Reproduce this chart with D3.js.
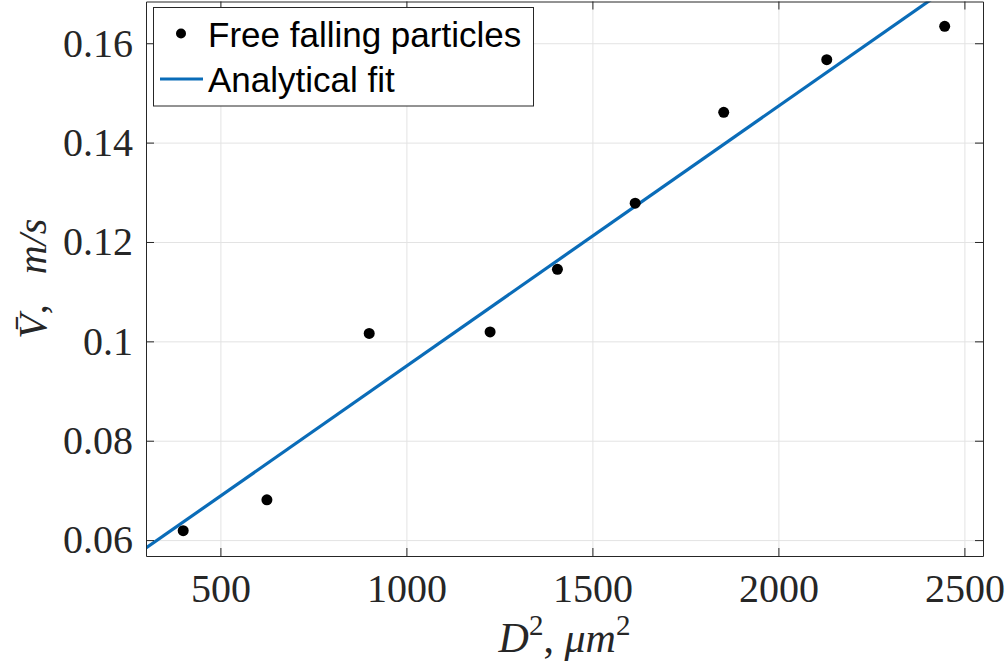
<!DOCTYPE html>
<html>
<meta charset="utf-8">
<style>
body { margin: 0; background: #fff; }
.tick text { font-family: "Liberation Serif", "Times New Roman", serif; font-size: 40px; fill: #262626; }
.axis path, .axis line { stroke: #262626; }
.grid line { stroke: #e3e3e3; }
.grid path { display: none; }
</style>
<body>
<svg id="chart" width="1007" height="668"></svg>
<script src="https://d3js.org/d3.v7.min.js"></script>
<script>

// measured particle data
var d2 = [400, 625, 900, 1225, 1406, 1615, 1853, 2130, 2447];
var vel = [0.0619, 0.0681, 0.1016, 0.1019, 0.1145, 0.1278, 0.1461, 0.1567, 0.1634];

// analytical fit, end points
var fitX = [300, 2550];
var fitY = [0.0584, 0.1761];

var xTicks = [500, 1000, 1500, 2000, 2500];
var yTicks = [0.06, 0.08, 0.1, 0.12, 0.14, 0.16];

var legendLabels = ["Free falling particles", "Analytical fit"];

var svg = d3.select("#chart"),
    margin = {top: 1.5, right: 24, bottom: 112, left: 146},
    width = 983 - margin.left,
    height = 556 - margin.top,
    g = svg.append("g").attr("transform", "translate(" + margin.left + "," + margin.top + ")");

var x = d3.scaleLinear().domain([300, 2550]).range([0, width]);
var y = d3.scaleLinear().domain([0.0568, 0.1684]).range([height, 0]);

var fmtY = function(d) { return String(+d.toFixed(2)); };

// grid
g.append("g").attr("class", "grid")
    .attr("transform", "translate(0," + height + ")")
    .call(d3.axisBottom(x).tickValues(xTicks).tickSize(-height).tickFormat(""));
g.append("g").attr("class", "grid")
    .call(d3.axisLeft(y).tickValues(yTicks).tickSize(-width).tickFormat(""));

g.append("clipPath").attr("id", "clip")
  .append("rect").attr("width", width).attr("height", height);

// fit line
g.append("line")
    .attr("clip-path", "url(#clip)")
    .attr("x1", x(fitX[0])).attr("y1", y(fitY[0]))
    .attr("x2", x(fitX[1])).attr("y2", y(fitY[1]))
    .attr("stroke", "#0a6cb8")
    .attr("stroke-width", 3.2);

// points
g.selectAll(".dot")
    .data(d2)
  .enter().append("circle")
    .attr("class", "dot")
    .attr("cx", function(d) { return x(d); })
    .attr("cy", function(d, i) { return y(vel[i]); })
    .attr("r", 5.5)
    .attr("fill", "#000");

// axes (box, inward ticks)
g.append("g").attr("class", "axis")
    .attr("transform", "translate(0," + height + ")")
    .call(d3.axisBottom(x).tickValues(xTicks).tickSize(-8).tickSizeOuter(0).tickPadding(17.5).tickFormat(d3.format("d")));
g.append("g").attr("class", "axis")
    .call(d3.axisLeft(y).tickValues(yTicks).tickSize(-8).tickSizeOuter(0).tickPadding(13).tickFormat(fmtY));
g.append("g").attr("class", "axis")
    .call(d3.axisTop(x).tickValues(xTicks).tickSize(-8).tickSizeOuter(0).tickFormat(""));
g.append("g").attr("class", "axis")
    .attr("transform", "translate(" + width + ",0)")
    .call(d3.axisRight(y).tickValues(yTicks).tickSize(-8).tickSizeOuter(0).tickFormat(""));

// x label
var xl = svg.append("text")
    .attr("x", margin.left + width / 2)
    .attr("y", 652)
    .attr("text-anchor", "middle")
    .style("font-family", "Liberation Serif, serif")
    .style("font-size", "42px")
    .style("font-style", "italic")
    .attr("fill", "#262626");
xl.append("tspan").text("D");
xl.append("tspan").attr("dy", -17).style("font-size", "29px").style("font-style", "normal").text("2");
xl.append("tspan").attr("dy", 17).style("font-style", "normal").text(", ");
xl.append("tspan").text("\u03bcm");
xl.append("tspan").attr("dy", -17).style("font-size", "29px").style("font-style", "normal").text("2");

// y label
var yl = svg.append("text")
    .attr("transform", "translate(46," + (margin.top + height / 2) + ") rotate(-90)")
    .attr("text-anchor", "middle")
    .style("font-family", "Liberation Serif, serif")
    .style("font-size", "40px")
    .style("font-style", "italic")
    .attr("fill", "#262626");
yl.append("tspan").text("V\u0304");
yl.append("tspan").style("font-style", "normal").text(",\u2002 ");
yl.append("tspan").text("m/s");

// legend
var legend = svg.append("g").attr("class", "legend");
legend.append("rect")
    .attr("x", 153.5).attr("y", 7.5)
    .attr("width", 380).attr("height", 98.5)
    .attr("fill", "#fff")
    .attr("stroke", "#262626")
    .attr("stroke-width", 1);

legend.append("circle")
    .attr("cx", 181).attr("cy", 33.5).attr("r", 5)
    .attr("fill", "#000");
legend.append("line")
    .attr("x1", 160).attr("x2", 203)
    .attr("y1", 79).attr("y2", 79)
    .attr("stroke", "#0a6cb8").attr("stroke-width", 3.2);

legend.selectAll(".ltext")
    .data(legendLabels)
  .enter().append("text")
    .attr("class", "ltext")
    .attr("x", 208)
    .attr("y", function(d, i) { return 46.5 + i * 45.5; })
    .style("font-family", "Liberation Sans, Arial, sans-serif")
    .style("font-size", "35px")
    .attr("fill", "#000")
    .text(function(d) { return d; });

</script>
</body>
</html>
